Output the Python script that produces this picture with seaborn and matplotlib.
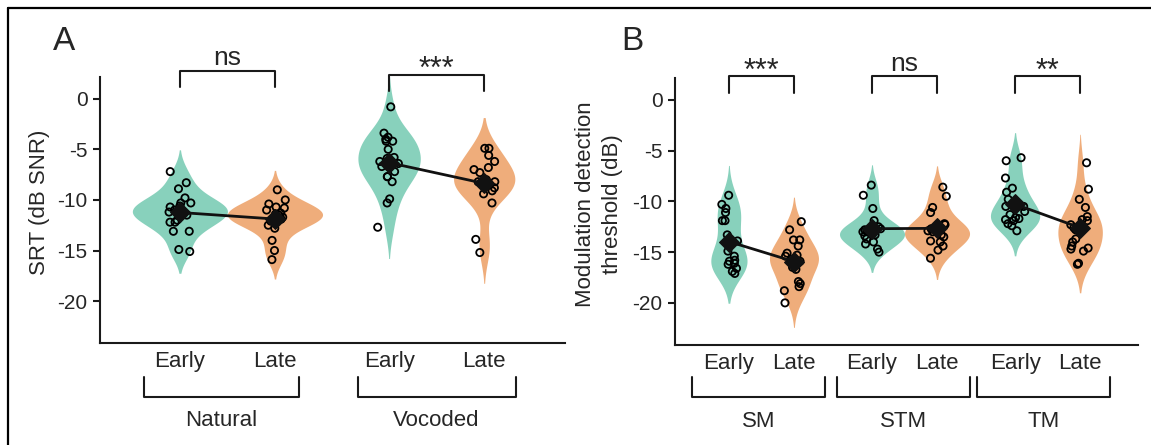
import numpy as np
import pandas as pd
import matplotlib
matplotlib.use('Agg')
import matplotlib.pyplot as plt
import matplotlib.transforms as mtransforms
from matplotlib.lines import Line2D
import seaborn as sns

# ──────────────────────────────────────────
# Data
# ──────────────────────────────────────────
# Panel A: SRT (dB SNR)
nat_early = [-7.2, -8.3, -8.9, -9.8, -10.3, -10.3, -10.6, -10.7, -11.0, -11.1,
             -11.3, -11.5, -12.0, -12.2, -12.2, -13.1, -13.1, -14.9, -15.1, -11.2]
nat_late = [-9.0, -10.0, -10.4, -10.7, -10.8, -11.0, -11.4, -11.3, -11.5, -12.0,
            -12.5, -12.8, -14.0, -15.0, -15.9, -11.7, -11.9, -12.1]
voc_early = [-0.8, -3.4, -3.8, -4.0, -4.2, -4.2, -5.0, -5.8, -5.9, -6.4,
             -6.7, -7.2, -7.7, -7.7, -8.2, -9.9, -10.3, -12.7, -6.2]
voc_late = [-4.9, -4.9, -5.6, -6.2, -6.8, -7.0, -7.3, -8.0, -8.2, -8.2,
            -8.8, -9.1, -9.4, -10.3, -13.9, -15.2, -8.3, -8.5]

# Panel B: modulation detection threshold (dB)
sm_early = [-9.4, -10.3, -10.7, -11.1, -11.9, -11.9, -13.3, -14.9, -15.4, -15.8,
            -15.9, -16.2, -16.1, -16.6, -16.9, -17.1, -13.9]
sm_late = [-20.0, -12.0, -12.8, -13.8, -13.8, -14.4, -15.1, -15.3, -15.4, -15.7,
           -15.9, -16.5, -16.7, -17.9, -18.1, -18.4, -18.8, -16.1]
stm_early = [-8.4, -9.4, -10.7, -11.9, -12.5, -12.7, -12.8, -12.9, -13.3, -13.4,
             -13.7, -14.0, -14.2, -14.7, -15.0, -13.0, -13.2]
stm_late = [-8.6, -9.5, -10.6, -11.1, -12.2, -12.3, -12.7, -12.8, -13.3, -13.5,
            -13.9, -14.0, -14.4, -14.8, -15.6, -12.9, -13.0]
tm_early = [-5.7, -6.0, -7.7, -8.7, -9.1, -9.8, -10.5, -11.6, -11.7, -11.9,
            -12.2, -12.4, -12.9, -10.5, -11.0, -11.3, -11.8]
tm_late = [-6.2, -8.8, -9.8, -10.6, -11.5, -11.8, -11.9, -12.3, -12.8, -13.7,
           -14.0, -14.6, -14.7, -14.9, -14.4, -16.2, -16.1, -12.6, -12.5]

groups_a = ['Natural', 'Vocoded']
groups_b = ['SM', 'STM', 'TM']
times = ['Early', 'Late']
sig_a = ['ns', '***']
sig_b = ['***', 'ns', '**']

TEAL = '#88D1BC'
ORANGE = '#EFAD7B'
GROUP_STEP = 2.2


def build_df(groups, series):
    rows = []
    for gi, g in enumerate(groups):
        for ti, t in enumerate(times):
            for v in series[gi][ti]:
                rows.append({'group': g, 'time': t,
                             'pos': gi * GROUP_STEP + ti, 'val': v})
    return pd.DataFrame(rows)


df_a = build_df(groups_a, [(nat_early, nat_late), (voc_early, voc_late)])
df_b = build_df(groups_b, [(sm_early, sm_late), (stm_early, stm_late),
                           (tm_early, tm_late)])

# ──────────────────────────────────────────
# Style
# ──────────────────────────────────────────
sns.set_theme(style='ticks')
plt.rcParams['font.family'] = ['Liberation Sans', 'DejaVu Sans']
plt.rcParams['axes.unicode_minus'] = False
np.random.seed(7)

fig = plt.figure(figsize=(11.51, 4.45), dpi=100)
ax_a = fig.add_axes([0.0869, 0.229, 0.404, 0.598])
ax_b = fig.add_axes([0.5864, 0.2247, 0.4023, 0.600])


def draw_panel(ax, df, groups, sigs, xlim, jitter, sig_tops, br_x, br_y, lab_y):
    sns.violinplot(data=df, x='pos', y='val', hue='time', orient='x',
                   palette={'Early': TEAL, 'Late': ORANGE}, native_scale=True,
                   dodge=False, inner=None, linewidth=0, width=1.0,
                   saturation=1, cut=2, legend=False, ax=ax)
    sns.stripplot(data=df, x='pos', y='val', orient='x', native_scale=True,
                  jitter=jitter, color='black', facecolors='none',
                  edgecolor='black', linewidth=1.3, size=5.2, zorder=3, ax=ax)
    sns.lineplot(data=df, x='pos', y='val', hue='group',
                 palette=['#111111'] * len(groups), estimator='mean',
                 errorbar=None, marker='D', markersize=10,
                 markeredgecolor='#111111', linewidth=2, legend=False,
                 zorder=4, ax=ax)

    ax.set_xlim(*xlim)
    ax.set_ylim(-24.15, 2.15)
    ax.set_yticks([0, -5, -10, -15, -20])
    ticks = [gi * GROUP_STEP + ti for gi in range(len(groups)) for ti in range(2)]
    ax.set_xticks(ticks)
    ax.set_xticklabels(times * len(groups))
    ax.set_xlabel('')
    for s in ['top', 'right']:
        ax.spines[s].set_visible(False)
    for s in ['left', 'bottom']:
        ax.spines[s].set_linewidth(1.5)
        ax.spines[s].set_color('#1a1a1a')
    ax.tick_params(axis='y', length=5, width=1.5, labelsize=15, pad=4,
                   color='#1a1a1a')
    ax.tick_params(axis='x', length=0, labelsize=16, pad=6)

    # significance brackets
    for gi, (txt, top) in enumerate(zip(sigs, sig_tops)):
        x0, x1 = gi * GROUP_STEP, gi * GROUP_STEP + 1
        leg = top - 1.65
        ax.plot([x0, x0, x1, x1], [leg, top, top, leg], color='#1a1a1a',
                lw=1.5, clip_on=False)
        if txt == 'ns':
            ax.text((x0 + x1) / 2, top + 0.55, txt, ha='center', va='baseline',
                    fontsize=19)
        else:
            ax.text((x0 + x1) / 2, top - 0.35, txt, ha='center', va='baseline',
                    fontsize=22)

    # group brackets below the axis
    trans = mtransforms.blended_transform_factory(ax.transData, ax.transAxes)
    for g, (bx0, bx1) in zip(groups, br_x):
        ax.plot([bx0, bx0, bx1, bx1], [br_y[0], br_y[1], br_y[1], br_y[0]],
                color='#1a1a1a', lw=1.5, clip_on=False, transform=trans)
        ax.text((bx0 + bx1) / 2, lab_y, g, ha='center', va='center',
                fontsize=16, transform=trans)


draw_panel(ax_a, df_a, groups_a, sig_a, (-0.84, 4.05), 0.12,
           [2.79, 2.39], [(-0.38, 1.25), (1.87, 3.53)], (-0.128, -0.203), -0.289)
draw_panel(ax_b, df_b, groups_b, sig_b, (-0.83, 6.29), 0.15,
           [2.3, 2.3, 2.3], [(-0.57, 1.48), (1.66, 3.70), (3.82, 5.86)],
           (-0.12, -0.195), -0.285)

ax_a.set_ylabel('SRT (dB SNR)', fontsize=16, va='center')
ax_a.yaxis.set_label_coords(-0.131, 0.53)
ax_b.set_ylabel('Modulation detection\nthreshold (dB)', fontsize=16,
                va='center', linespacing=1.35)
ax_b.yaxis.set_label_coords(-0.164, 0.529)

# panel letters
fig.text(64 / 1151, 1 - 41 / 445, 'A', fontsize=24, ha='center', va='center')
fig.text(632 / 1151, 1 - 41 / 445, 'B', fontsize=24, ha='center', va='center')

# outer frame lines (top and left)
fig.add_artist(Line2D([8 / 1151, 1], [1 - 8 / 445, 1 - 8 / 445],
                      transform=fig.transFigure, color='black', lw=1.6))
fig.add_artist(Line2D([8 / 1151, 8 / 1151], [0, 1 - 8 / 445],
                      transform=fig.transFigure, color='black', lw=1.6))

fig.savefig('out.png', dpi=100, facecolor='white')
